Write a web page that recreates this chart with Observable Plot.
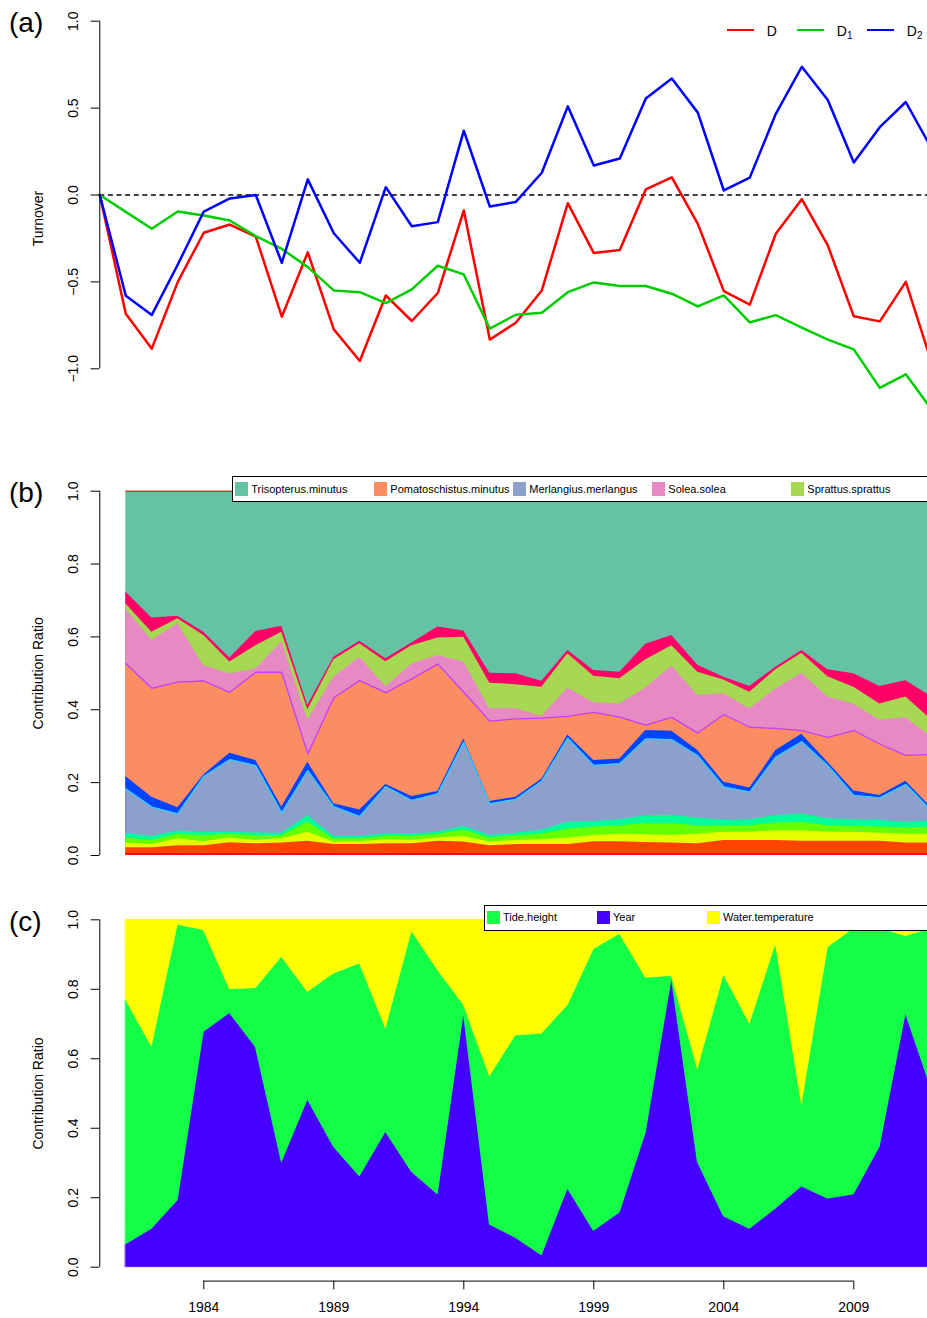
<!DOCTYPE html>
<html><head><meta charset="utf-8">
<script src="https://cdn.jsdelivr.net/npm/d3@7"></script>
<script src="https://cdn.jsdelivr.net/npm/@observablehq/plot@0.6"></script>
<style>
html,body{margin:0;padding:0;background:#fff;overflow:hidden;}
#wrap{position:relative;width:927px;height:1318px;overflow:hidden;font-family:"Liberation Sans",Arial,Helvetica,sans-serif;color:#000;}
.abs{position:absolute;white-space:nowrap;}
.tag{font-size:28px;line-height:28px;}
.legbox{background:#fff;border:1.3px solid #000;box-sizing:border-box;}
.sw{width:13.4px;height:13.4px;}
.lt{font-size:11px;line-height:13px;}
.la{font-size:14px;line-height:16px;}
.la sub{font-size:10px;vertical-align:-3px;line-height:0;}
</style>
</head><body><div id="wrap"></div>
<script>
// ---------- shared ----------
const W = 940;
const xDomain = [1980, 2012];

// ---------- panel (a): turnover ----------
const yearsA = [1980,1981,1982,1983,1984,1985,1986,1987,1988,1989,1990,1991,1992,1993,1994,1995,1996,1997,1998,1999,2000,2001,2002,2003,2004,2005,2006,2007,2008,2009,2010,2011,2012];
const seriesA = ["D", "D1", "D2"];
const seriesALabel = [["D",""], ["D","1"], ["D","2"]];
const seriesAColor = ["#FF0000", "#00CD00", "#0000FF"];
const turnoverD  = [0,-0.683,-0.884,-0.50,-0.217,-0.17,-0.24,-0.70,-0.33,-0.773,-0.955,-0.578,-0.725,-0.564,-0.089,-0.832,-0.735,-0.549,-0.047,-0.334,-0.317,0.032,0.102,-0.166,-0.553,-0.631,-0.223,-0.024,-0.29,-0.698,-0.727,-0.50,-0.968];
const turnoverD1 = [0,-0.097,-0.194,-0.095,-0.118,-0.147,-0.237,-0.31,-0.415,-0.549,-0.559,-0.622,-0.543,-0.407,-0.457,-0.769,-0.689,-0.677,-0.559,-0.503,-0.524,-0.524,-0.568,-0.641,-0.578,-0.733,-0.691,-0.763,-0.832,-0.888,-1.11,-1.032,-1.235];
const turnoverD2 = [0,-0.58,-0.69,-0.40,-0.095,-0.02,0.0,-0.39,0.09,-0.22,-0.39,0.045,-0.18,-0.156,0.37,-0.066,-0.04,0.128,0.51,0.17,0.21,0.555,0.67,0.474,0.026,0.10,0.467,0.738,0.547,0.187,0.39,0.535,0.265];
const yTicksA = [-1, -0.5, 0, 0.5, 1];

// ---------- panel (b): species contribution (upper boundary of each band) ----------
const yearsB = [1981,1982,1983,1984,1985,1986,1987,1988,1989,1990,1991,1992,1993,1994,1995,1996,1997,1998,1999,2000,2001,2002,2003,2004,2005,2006,2007,2008,2009,2010,2011,2012];
const topRed        = [0.006,0.006,0.005,0.005,0.006,0.005,0.005,0.006,0.005,0.005,0.005,0.006,0.006,0.005,0.005,0.005,0.005,0.005,0.005,0.005,0.005,0.005,0.005,0.005,0.005,0.005,0.005,0.005,0.005,0.005,0.005,0.005];
const topOrangeRed  = [0.021,0.021,0.027,0.027,0.035,0.032,0.034,0.039,0.030,0.030,0.032,0.032,0.039,0.037,0.027,0.030,0.030,0.030,0.038,0.038,0.036,0.034,0.032,0.041,0.041,0.041,0.039,0.039,0.039,0.039,0.034,0.034];
const topYellow     = [0.034,0.030,0.046,0.038,0.048,0.041,0.046,0.064,0.037,0.038,0.043,0.041,0.048,0.052,0.037,0.041,0.043,0.048,0.055,0.058,0.057,0.055,0.058,0.064,0.064,0.067,0.067,0.064,0.064,0.061,0.058,0.058];
const topLime       = [0.048,0.041,0.058,0.055,0.058,0.055,0.055,0.091,0.046,0.046,0.052,0.052,0.058,0.070,0.048,0.054,0.059,0.073,0.078,0.082,0.087,0.087,0.082,0.081,0.082,0.089,0.091,0.082,0.080,0.078,0.076,0.078];
const topSpring     = [0.060,0.052,0.067,0.064,0.064,0.062,0.061,0.110,0.052,0.052,0.059,0.059,0.064,0.080,0.055,0.061,0.070,0.091,0.093,0.098,0.109,0.110,0.103,0.096,0.098,0.110,0.114,0.101,0.098,0.096,0.091,0.095];
const topMerlangius = [0.183,0.133,0.114,0.217,0.263,0.247,0.117,0.233,0.134,0.107,0.189,0.151,0.169,0.311,0.142,0.154,0.204,0.322,0.247,0.252,0.320,0.318,0.274,0.188,0.174,0.270,0.312,0.247,0.165,0.158,0.195,0.122];
const topBlue       = [0.217,0.160,0.131,0.221,0.281,0.261,0.133,0.256,0.142,0.125,0.195,0.162,0.176,0.320,0.148,0.160,0.209,0.331,0.261,0.265,0.343,0.341,0.288,0.201,0.185,0.288,0.333,0.256,0.177,0.165,0.204,0.130];
const topPomato     = [0.527,0.459,0.476,0.479,0.448,0.503,0.503,0.279,0.433,0.480,0.447,0.485,0.526,0.448,0.369,0.375,0.377,0.382,0.393,0.380,0.358,0.379,0.336,0.387,0.352,0.349,0.343,0.324,0.343,0.306,0.275,0.277];
const topSolea      = [0.677,0.590,0.636,0.521,0.499,0.512,0.586,0.372,0.489,0.544,0.463,0.526,0.549,0.531,0.403,0.403,0.382,0.459,0.419,0.416,0.460,0.520,0.439,0.444,0.403,0.457,0.500,0.435,0.415,0.371,0.378,0.325];
const topSprattus   = [0.691,0.613,0.650,0.604,0.531,0.576,0.613,0.400,0.537,0.581,0.532,0.576,0.597,0.599,0.473,0.469,0.462,0.554,0.492,0.485,0.537,0.576,0.503,0.482,0.448,0.510,0.555,0.491,0.462,0.416,0.435,0.372];
const topCrimson    = [0.723,0.652,0.657,0.613,0.542,0.615,0.629,0.412,0.544,0.588,0.540,0.583,0.627,0.616,0.500,0.499,0.478,0.563,0.508,0.503,0.580,0.604,0.522,0.489,0.464,0.517,0.563,0.510,0.499,0.464,0.480,0.435];
const topTrisopterus= [1,1,1,1,1,1,1,1,1,1,1,1,1,1,1,1,1,1,1,1,1,1,1,1,1,1,1,1,1,1,1,1];
const legendB = ["Trisopterus.minutus","Pomatoschistus.minutus","Merlangius.merlangus","Solea.solea","Sprattus.sprattus"];
const legendBColor = ["#66C2A5","#FC8D62","#8DA0CB","#E78AC3","#A6D854"];
const yTicksBC = [0, 0.2, 0.4, 0.6, 0.8, 1.0];

// ---------- panel (c): environmental contribution ----------
const yearsC = yearsB;
const shareYear  = [0.065,0.11,0.192,0.677,0.731,0.633,0.302,0.482,0.346,0.261,0.389,0.274,0.209,0.73,0.122,0.084,0.034,0.226,0.104,0.157,0.386,0.83,0.302,0.146,0.11,0.168,0.232,0.197,0.209,0.346,0.73,0.51];
const shareTide  = [0.705,0.525,0.794,0.293,0.069,0.17,0.591,0.31,0.499,0.613,0.299,0.693,0.646,0.025,0.428,0.583,0.638,0.528,0.811,0.802,0.447,0.008,0.269,0.696,0.591,0.763,0.238,0.723,0.766,0.629,0.223,0.465];
const shareWater = [0.23,0.365,0.014,0.03,0.20,0.197,0.107,0.208,0.155,0.126,0.312,0.033,0.145,0.245,0.45,0.333,0.328,0.246,0.085,0.041,0.167,0.162,0.429,0.158,0.299,0.069,0.53,0.08,0.025,0.025,0.047,0.025];
const varsC = ["Year", "Tide.height", "Water.temperature"];      // stacking order, bottom to top
const varsCColor = ["#4600FF", "#12FF46", "#FFFF00"];
const legendC = ["Tide.height", "Year", "Water.temperature"];
const xTicksC = [1984, 1989, 1994, 1999, 2004, 2009];

// ---------- helpers ----------
const wrap = document.getElementById("wrap");
const fmt1 = d3.format(".1f");
const FONT = '"Liberation Sans", Arial, Helvetica, sans-serif';
function mount(svg, top) {
  svg.style.position = "absolute";
  svg.style.left = "0px";
  svg.style.top = top + "px";
  svg.style.maxWidth = "none";
  svg.style.overflow = "visible";
  svg.style.background = "transparent";
  svg.style.fontFamily = FONT;
  wrap.appendChild(svg);
}
function div(cls, css, html) {
  const d = document.createElement("div");
  d.className = "abs " + (cls || "");
  Object.assign(d.style, css);
  if (html != null) d.innerHTML = html;
  wrap.appendChild(d);
  return d;
}
function yAxisMarks(ticks, title) {
  return [
    Plot.ruleX([xDomain[0]], {x: d => d, y1: () => ticks[0], y2: () => ticks[ticks.length - 1], stroke: "#000", strokeWidth: 1}),
    Plot.axisY({ticks, tickSize: 8.7, tickFormat: () => "", label: null, stroke: "#000"}),
    Plot.text(ticks, {y: d => d, frameAnchor: "left", dx: -26.6, rotate: -90, textAnchor: "middle", lineAnchor: "middle", text: d => fmt1(d), fontSize: 14, fill: "#000"}),
    Plot.text([title], {frameAnchor: "left", dx: -61.6, rotate: -90, textAnchor: "middle", lineAnchor: "middle", text: d => d, fontSize: 14, fill: "#000"})
  ];
}
const commonStyle = {maxWidth: "none", overflow: "visible", background: "transparent", fontFamily: FONT};

// ---------- draw panel (a) ----------
const turnoverValues = [turnoverD, turnoverD1, turnoverD2];
const svgA = Plot.plot({
  width: W, height: 450,
  marginLeft: 99.3, marginRight: W - 931.3, marginTop: 5, marginBottom: 19,
  style: commonStyle,
  x: {domain: xDomain, axis: null},
  y: {domain: [-1, 1], range: [368.3, 20.7]},
  marks: [
    Plot.ruleY([0], {stroke: "#000", strokeWidth: 1.3, strokeDasharray: "5,3.6"}),
    ...seriesA.map((s, k) => Plot.line(yearsA, {
      x: d => d, y: (d, i) => turnoverValues[k][i],
      stroke: seriesAColor[k], strokeWidth: 2.5, strokeLinejoin: "round", strokeLinecap: "round"
    })),
    ...yAxisMarks(yTicksA, "Turnover")
  ]
});
mount(svgA, 0);

// ---------- draw panel (b) ----------
const layersB = [
  {color: "#FF0000", top: topRed},
  {color: "#FF4400", top: topOrangeRed},
  {color: "#E4FF00", top: topYellow},
  {color: "#66FF00", top: topLime},
  {color: "#00FF99", top: topSpring},
  {color: "#8DA0CB", top: topMerlangius},
  {color: "#0044FF", top: topBlue},
  {color: "#FC8D62", top: topPomato},
  {color: "#E78AC3", top: topSolea},
  {color: "#A6D854", top: topSprattus},
  {color: "#FF0066", top: topCrimson},
  {color: "#66C2A5", top: topTrisopterus}
];
const svgB = Plot.plot({
  width: W, height: 430,
  marginLeft: 99.3, marginRight: W - 931.3, marginTop: 26.1, marginBottom: 10.4,
  style: commonStyle,
  x: {domain: xDomain, axis: null},
  y: {domain: [0, 1], range: [405, 40.7]},
  marks: [
    ...layersB.slice().reverse().map(L => Plot.areaY(yearsB, {
      x: d => d, y1: () => 0, y2: (d, i) => L.top[i], fill: L.color
    })),
    Plot.line(yearsB, {x: d => d, y: (d, i) => topMerlangius[i], stroke: "#33CCFF", strokeWidth: 1.3}),
    Plot.line(yearsB, {x: d => d, y: (d, i) => topPomato[i], stroke: "#C040FF", strokeWidth: 1.3}),
    Plot.line(yearsB, {x: d => d, y: (d, i) => topTrisopterus[i], stroke: "#FF0000", strokeWidth: 1}),
    ...yAxisMarks(yTicksBC, "Contribution Ratio")
  ]
});
mount(svgB, 450);

// ---------- draw panel (c) ----------
const sharesC = [shareYear, shareTide, shareWater];
const rowsC = [];
varsC.forEach((v, k) => yearsC.forEach((yr, i) => rowsC.push({year: yr, variable: v, value: sharesC[k][i]})));
const svgC = Plot.plot({
  width: W, height: 438,
  marginLeft: 99.3, marginRight: W - 931.3, marginTop: 25.4, marginBottom: 37.4,
  style: commonStyle,
  x: {domain: xDomain},
  y: {domain: [0, 1], range: [386.7, 39.3]},
  color: {domain: varsC, range: varsCColor},
  marks: [
    Plot.areaY(rowsC, Plot.stackY({order: varsC}, {x: "year", y: "value", z: "variable", fill: "variable", stroke: "variable", strokeWidth: 0.6})),
    ...yAxisMarks(yTicksBC, "Contribution Ratio"),
    Plot.ruleY([0], {x1: () => xTicksC[0], x2: () => xTicksC[xTicksC.length - 1], dy: 13.9, stroke: "#000", strokeWidth: 1}),
    Plot.axisX({ticks: xTicksC, tickSize: 8.7, tickFormat: () => "", label: null, stroke: "#000"}),
    Plot.text(xTicksC, {x: d => d, frameAnchor: "bottom", dy: 26.7, textAnchor: "middle", lineAnchor: "middle", text: d => String(d), fontSize: 14, fill: "#000"})
  ]
});
mount(svgC, 880);

// ---------- panel tags ----------
[["(a)", 9.3], ["(b)", 479.3], ["(c)", 907.7]].forEach(([t, top]) => div("tag", {left: "9px", top: top + "px"}, t));

// ---------- legend (a) ----------
seriesA.forEach((s, k) => {
  const x0 = 727.3 + 70 * k;
  div("", {left: x0 + "px", top: "28.9px", width: "27px", height: "2.3px", background: seriesAColor[k]});
  const [base, sub] = seriesALabel[k];
  div("la", {left: (x0 + 39.5) + "px", top: "22.5px"}, base + (sub ? "<sub>" + sub + "</sub>" : ""));
});

// ---------- legend (b) ----------
div("legbox", {left: "232.3px", top: "476px", width: "720px", height: "25.5px"});
legendB.forEach((name, k) => {
  const x0 = 235 + 139 * k;
  div("sw", {left: x0 + "px", top: "482.3px", background: legendBColor[k]});
  div("lt", {left: (x0 + 16.3) + "px", top: "482.5px"}, name);
});

// ---------- legend (c) ----------
div("legbox", {left: "484px", top: "905px", width: "460px", height: "25.5px"});
legendC.forEach((name, k) => {
  const x0 = 486.7 + 110 * k;
  div("sw", {left: x0 + "px", top: "910.9px", background: varsCColor[varsC.indexOf(name)]});
  div("lt", {left: (x0 + 16.3) + "px", top: "911.2px"}, name);
});
</script>
</body></html>
